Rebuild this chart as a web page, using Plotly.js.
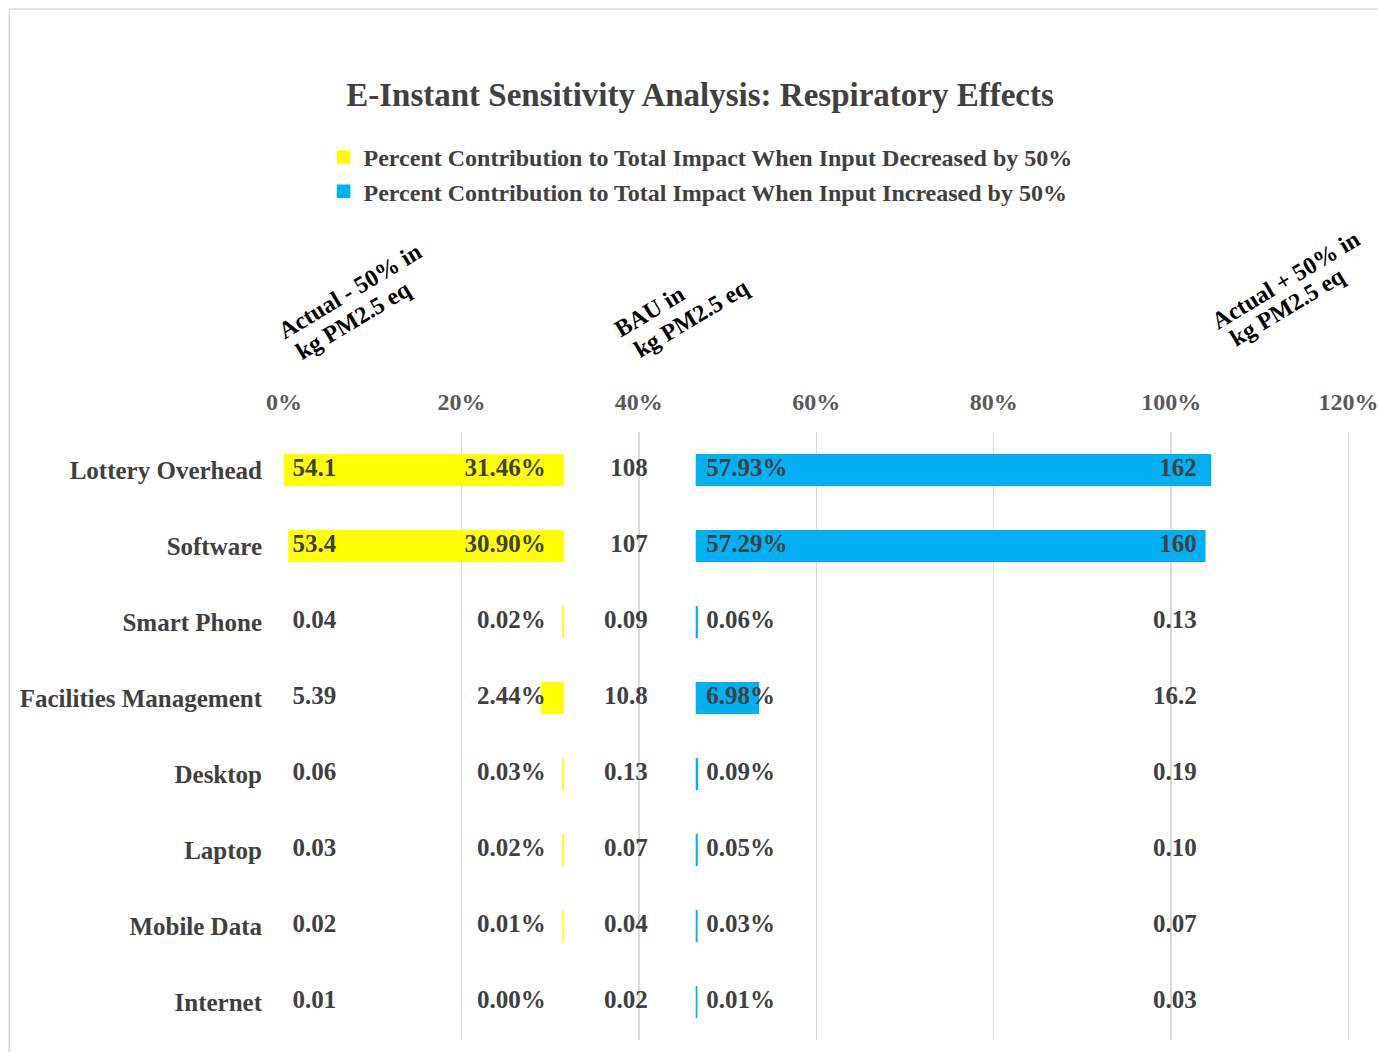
<!DOCTYPE html>
<html>
<head>
<meta charset="utf-8">
<script src="https://cdn.plot.ly/plotly-3.0.1.min.js"></script>
<style>
  html, body { margin: 0; padding: 0; background: #ffffff; }
  #chart { width: 1378px; height: 1052px; }
</style>
</head>
<body>
<div id="chart"></div>
<script>
// ---- Data ----
const categories = ['Lottery Overhead', 'Software', 'Smart Phone', 'Facilities Management',
                    'Desktop', 'Laptop', 'Mobile Data', 'Internet'];
const decreasedValues = ['54.1', '53.4', '0.04', '5.39', '0.06', '0.03', '0.02', '0.01'];   // Actual - 50%, kg PM2.5 eq
const decreasedPct = [31.46, 30.90, 0.02, 2.44, 0.03, 0.02, 0.01, 0.00];                   // % contribution, input -50%
const bauValues = ['108', '107', '0.09', '10.8', '0.13', '0.07', '0.04', '0.02'];          // BAU, kg PM2.5 eq
const increasedPct = [57.93, 57.29, 0.06, 6.98, 0.09, 0.05, 0.03, 0.01];                   // % contribution, input +50%
const increasedValues = ['162', '160', '0.13', '16.2', '0.19', '0.10', '0.07', '0.03'];    // Actual + 50%, kg PM2.5 eq
const xTickValues = [0, 20, 40, 60, 80, 100, 120];
const xTickLabels = ['0%', '20%', '40%', '60%', '80%', '100%', '120%'];

// ---- Layout constants (positions on the % axis) ----
const YELLOW_END = Math.max(...decreasedPct);   // yellow bars are right-aligned here
const BLUE_START = 46.5;                         // blue bars start here
const COL = { left: 0.95, decPct: 29.5, bau: 41.0, incPct: 47.6, right: 102.9 };

const fmtPct = v => v.toFixed(2) + '%';
const serif = '"Liberation Serif", "Times New Roman", serif';
const labelFont = { family: serif, size: 25, color: '#404040', weight: 'bold' };

const at = c => categories.map(() => c);
const minLine = vals => vals.map(v => (v > 0 ? 1.6 : 0));

const traces = [
  {
    type: 'bar', orientation: 'h', name: 'Percent Contribution to Total Impact When Input Decreased by 50%',
    y: categories, x: decreasedPct, base: decreasedPct.map(v => YELLOW_END - v),
    marker: { color: '#FFFF00', line: { color: '#FFFF00', width: minLine(decreasedPct) } },
    width: 0.4, hoverinfo: 'skip', legendgroup: 'a'
  },
  {
    type: 'bar', orientation: 'h', name: 'Percent Contribution to Total Impact When Input Increased by 50%',
    y: categories, x: increasedPct, base: at(BLUE_START),
    marker: { color: '#00B0F0', line: { color: '#00B0F0', width: minLine(increasedPct) } },
    width: 0.4, hoverinfo: 'skip', legendgroup: 'b'
  },
  { type: 'scatter', mode: 'text', y: categories, x: at(COL.left), text: decreasedValues,
    textposition: 'middle right', textfont: labelFont, showlegend: false, hoverinfo: 'skip' },
  { type: 'scatter', mode: 'text', y: categories, x: at(COL.decPct), text: decreasedPct.map(fmtPct),
    textposition: 'middle left', textfont: labelFont, showlegend: false, hoverinfo: 'skip' },
  { type: 'scatter', mode: 'text', y: categories, x: at(COL.bau), text: bauValues,
    textposition: 'middle left', textfont: labelFont, showlegend: false, hoverinfo: 'skip' },
  { type: 'scatter', mode: 'text', y: categories, x: at(COL.incPct), text: increasedPct.map(fmtPct),
    textposition: 'middle right', textfont: labelFont, showlegend: false, hoverinfo: 'skip' },
  { type: 'scatter', mode: 'text', y: categories, x: at(COL.right), text: increasedValues,
    textposition: 'middle left', textfont: labelFont, showlegend: false, hoverinfo: 'skip' }
];

const headerFont = { family: serif, size: 24, color: '#000000', weight: 'bold' };
const header = (text, x, y) => ({
  text: text, xref: 'x', yref: 'paper', x: x, y: y, xanchor: 'center', yanchor: 'middle',
  textangle: -31, showarrow: false, font: headerFont
});

const layout = {
  width: 1378, height: 1052,
  paper_bgcolor: '#ffffff', plot_bgcolor: '#ffffff',
  margin: { l: 284, r: 25, t: 432, b: 12 },
  barmode: 'overlay',
  title: {
    text: '<b>E-Instant Sensitivity Analysis: Respiratory Effects</b>',
    font: { family: serif, size: 33, color: '#404040' },
    x: 0.508, xref: 'container', xanchor: 'center',
    y: 0.91, yref: 'container', yanchor: 'middle'
  },
  showlegend: true,
  legend: {
    orientation: 'v', x: 0.037, xanchor: 'left', y: 1.4885, yanchor: 'top',
    font: { family: serif, size: 24, color: '#404040', weight: 'bold' },
    itemwidth: 30, tracegroupgap: 10, traceorder: 'normal',
    bgcolor: 'rgba(0,0,0,0)'
  },
  xaxis: {
    side: 'top', range: [0, 120.5],
    tickvals: xTickValues, ticktext: xTickLabels,
    tickfont: { family: serif, size: 24, color: '#595959', weight: 'bold' },
    ticklabeloverflow: 'allow',
    showgrid: true, gridcolor: '#d9d9d9', gridwidth: 1.5,
    zeroline: false, showline: false, ticks: '', ticklabelstandoff: 16,
    fixedrange: true
  },
  yaxis: {
    type: 'category', categoryorder: 'array', categoryarray: categories,
    autorange: 'reversed',
    tickfont: { family: serif, size: 25, color: '#404040', weight: 'bold' },
    showgrid: false, zeroline: false, showline: false, ticks: '',
    ticklabelstandoff: 21, fixedrange: true
  },
  annotations: [
    header('Actual - 50% in', 7.44, 1.2319),
    header('kg PM2.5 eq', 7.83, 1.1834),
    header('BAU in', 41.24, 1.1990),
    header('kg PM2.5 eq', 45.97, 1.1867),
    header('Actual + 50% in', 112.9, 1.25),
    header('kg PM2.5 eq', 113.07, 1.2048)
  ],
  shapes: [
    { type: 'rect', xref: 'paper', yref: 'paper', x0: -0.2570, x1: 1.2, y0: -0.2, y1: 1.6957,
      line: { color: '#d9d9d9', width: 1.5 }, fillcolor: 'rgba(0,0,0,0)', layer: 'below' }
  ]
};

Plotly.newPlot('chart', traces, layout, { displayModeBar: false, staticPlot: true });
</script>
</body>
</html>
